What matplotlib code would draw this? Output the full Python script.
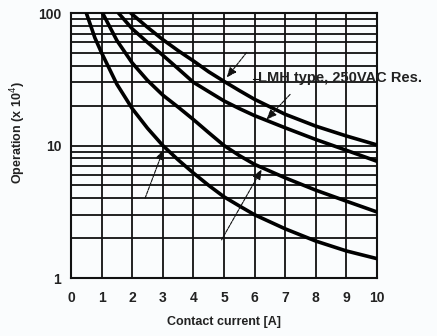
import numpy as np
import matplotlib
matplotlib.use("Agg")
import matplotlib.pyplot as plt
from matplotlib.ticker import FixedLocator, NullFormatter

# curves (contact current [A], operations x10^4)
xa = [0.5, 0.78, 1.0, 1.5, 2.0, 2.5, 3.0, 3.5, 4.0, 4.5, 5.0, 5.5, 6.0, 7.0, 8.0, 9.0, 10.0]
ya = [100, 65, 50, 29, 19, 13.5, 10, 7.8, 6.2, 5.0, 4.1, 3.5, 3.0, 2.35, 1.9, 1.6, 1.4]

xb = [1.03, 1.5, 2.0, 2.5, 3.0, 3.5, 4.0, 4.5, 5.0, 5.5, 6.0, 7.0, 8.0, 9.0, 10.0]
yb = [100, 62, 42, 31, 24, 19.5, 15.7, 12.5, 10, 8.4, 7.2, 5.7, 4.6, 3.8, 3.15]

xc = [1.55, 2.0, 2.5, 3.0, 3.5, 4.0, 4.5, 5.0, 5.5, 6.0, 7.0, 8.0, 9.0, 10.0]
yc = [100, 76, 60, 48, 38, 30, 25.5, 21.7, 19, 16.8, 13.6, 11.1, 9.2, 7.6]

xd = [1.95, 2.5, 3.0, 3.5, 4.0, 4.5, 5.0, 5.5, 6.0, 7.0, 8.0, 9.0, 10.0]
yd = [100, 78, 63, 52, 43.5, 36, 30.5, 26, 22.3, 17.2, 14, 11.8, 10.1]

# arrows: (tail x, tail y, tip x, tip y)
arrows = [
    (5.74, 50.4, 5.09, 32.6),
    (7.16, 24.3, 6.39, 15.7),
    (2.42, 4.0, 3.02, 9.3),
    (4.92, 1.94, 6.23, 6.6),
]
label = "LMH type, 250VAC Res."

xticks = list(range(0, 11))
yticks = [1, 10, 100]
yminor = [m * d for d in (1, 10) for m in range(2, 10)]

cond = ['Liberation Sans Narrow', 'Liberation Sans', 'DejaVu Sans']
bg = '#fafcfd'
tc = '#222222'

fig = plt.figure(figsize=(4.37, 3.36), dpi=100, facecolor=bg)
ax = fig.add_axes([0.1625, 0.1726, 0.7002, 0.7887], facecolor=bg)
ax.set_yscale('log')
ax.set_xlim(0, 10)
ax.set_ylim(1, 100)

# grid
for v in xticks:
    ax.axvline(v, color='#111111', lw=1.3, zorder=1)
for v in yminor + yticks:
    ax.axhline(v, color='#111111', lw=1.3, zorder=1)
for s in ax.spines.values():
    s.set_linewidth(1.5)
    s.set_color('#111111')

for xs, ys in [(xa, ya), (xb, yb), (xc, yc), (xd, yd)]:
    ax.plot(xs, ys, color='black', lw=2.6, solid_capstyle='round', zorder=3)

for x0, y0, x1, y1 in arrows:
    ax.annotate('', xy=(x1, y1), xytext=(x0, y0),
                arrowprops=dict(arrowstyle='-|>,head_length=0.6,head_width=0.25',
                                color='#111111', lw=0.8, linestyle=(0, (3, 1)),
                                shrinkA=0, shrinkB=0),
                zorder=4)

ax.plot([5.95, 6.1], [31.5, 31.5], color='#111111', lw=0.8, zorder=4)
ax.text(6.1, 32.5, label, fontsize=10.5, fontweight='bold', family=['Liberation Sans', 'DejaVu Sans'],
        va='center', ha='left', color=tc, zorder=5, clip_on=False)

ax.xaxis.set_major_locator(FixedLocator(xticks))
ax.yaxis.set_major_locator(FixedLocator(yticks))
ax.yaxis.set_minor_locator(FixedLocator(yminor))
ax.yaxis.set_minor_formatter(NullFormatter())
ax.set_xticklabels([str(v) for v in xticks], family=cond, fontweight='bold', fontsize=10, color=tc)
ax.set_yticklabels([str(v) for v in yticks], family=cond, fontweight='bold', fontsize=10, color=tc)
ax.tick_params(axis='x', which='both', length=0, pad=9)
ax.tick_params(axis='y', which='both', length=0, pad=7)

ax.set_xlabel('Contact current [A]', family=cond, fontweight='bold', fontsize=9,
              color=tc, labelpad=8)
ax.set_ylabel(r'Operation (x 10$^4$)', family=cond, fontweight='bold', fontsize=9,
              color=tc)
ax.yaxis.set_label_coords(-0.14, 0.55)

fig.savefig('out.png', dpi=100, facecolor=bg)
